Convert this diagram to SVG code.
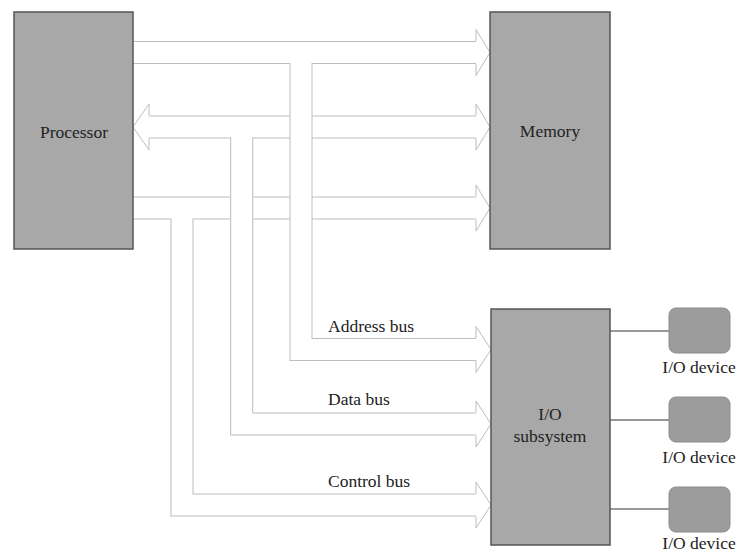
<svg xmlns="http://www.w3.org/2000/svg" width="750" height="554" viewBox="0 0 750 554">
  <style>
    .pipe-edge { fill: none; stroke: #bdbdbd; stroke-width: 23; stroke-linejoin: miter; stroke-linecap: butt; }
    .pipe-core { fill: none; stroke: #ffffff; stroke-width: 21; stroke-linejoin: miter; stroke-linecap: butt; }
    .head { fill: #ffffff; stroke: #bdbdbd; stroke-width: 1; stroke-linejoin: miter; }
    .box { fill: #a8a8a8; stroke: #555555; stroke-width: 1.5; }
    .dev { fill: #9c9c9c; stroke: #8c8c8c; stroke-width: 1; }
    .link { stroke: #333333; stroke-width: 1.2; fill: none; }
    .label { font-family: "Liberation Serif", "Times New Roman", serif; font-size: 17.5px; fill: #222222; }
    .mid { text-anchor: middle; }
  </style>
  <rect width="750" height="554" fill="#ffffff"/>

  <g id="connectors">
    <!-- control bus: processor to memory, branch down to I/O -->
    <g id="control-bus">
      <path class="pipe-edge" d="M133,208 H476 M182,208 V505 H476"/>
      <path class="pipe-core" d="M133,208 H476 M182,208 V505 H476"/>
    </g>
    <!-- data bus: bidirectional, branch down to I/O -->
    <g id="data-bus">
      <path class="pipe-edge" d="M149,127 H476 M241.7,127 V424 H476"/>
      <path class="pipe-core" d="M149,127 H476 M241.7,127 V424 H476"/>
    </g>
    <!-- address bus: processor to memory, branch down to I/O -->
    <g id="address-bus">
      <path class="pipe-edge" d="M133,52.5 H476 M301,52.5 V349.5 H476"/>
      <path class="pipe-core" d="M133,52.5 H476 M301,52.5 V349.5 H476"/>
    </g>
    <!-- open arrowheads -->
    <g id="heads">
      <path class="head" d="M476,41 V29.5 L490,52.5 L476,75.5 V64"/>
      <path class="head" d="M476,115.5 V104 L490,127 L476,150 V138.5"/>
      <path class="head" d="M149,115.5 V104 L133,127 L149,150 V138.5"/>
      <path class="head" d="M476,196.5 V185 L490,208 L476,231 V219.5"/>
      <path class="head" d="M476,338 V326.5 L491,349.5 L476,372.5 V361"/>
      <path class="head" d="M476,412.5 V401 L491,424 L476,447 V435.5"/>
      <path class="head" d="M476,493.5 V482 L491,505 L476,528 V516.5"/>
    </g>
    <!-- I/O subsystem to devices -->
    <g id="device-links">
      <line class="link" x1="610" y1="331" x2="669" y2="331"/>
      <line class="link" x1="610" y1="420" x2="669" y2="420"/>
      <line class="link" x1="610" y1="509" x2="669" y2="509"/>
    </g>
  </g>

  <g id="bus-labels">
    <text class="label" x="328" y="332">Address bus</text>
    <text class="label" x="328" y="405">Data bus</text>
    <text class="label" x="328" y="487">Control bus</text>
  </g>

  <g id="processor">
    <rect class="box" x="14" y="12" width="119" height="237"/>
    <text class="label mid" x="74" y="137.5">Processor</text>
  </g>

  <g id="memory">
    <rect class="box" x="490" y="12" width="120" height="237"/>
    <text class="label mid" x="550" y="137">Memory</text>
  </g>

  <g id="io-subsystem">
    <rect class="box" x="491" y="309" width="119" height="236"/>
    <text class="label mid" x="550" y="420">I/O</text>
    <text class="label mid" x="550" y="441.5">subsystem</text>
  </g>

  <g id="io-device-1">
    <rect class="dev" x="669" y="308" width="61" height="45" rx="7"/>
    <text class="label mid" x="699" y="373">I/O device</text>
  </g>
  <g id="io-device-2">
    <rect class="dev" x="669" y="397" width="61" height="45" rx="7"/>
    <text class="label mid" x="699" y="463">I/O device</text>
  </g>
  <g id="io-device-3">
    <rect class="dev" x="669" y="487" width="61" height="45" rx="7"/>
    <text class="label mid" x="699" y="549">I/O device</text>
  </g>
</svg>
